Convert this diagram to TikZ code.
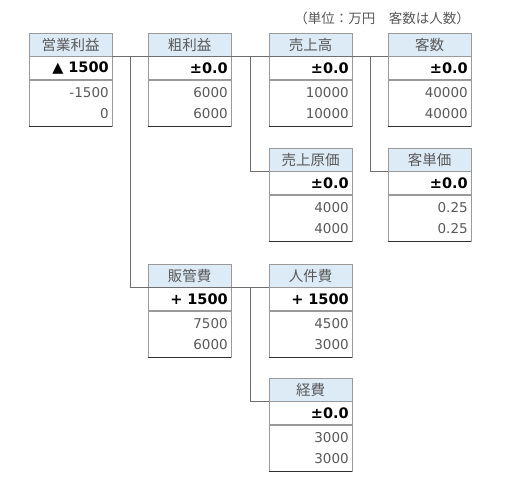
\documentclass[tikz,border=0pt]{standalone}
\usepackage{fontspec}
\setmainfont{Noto Sans CJK JP}
\newfontfamily\numfont{DejaVu Sans}
\definecolor{hdrblue}{HTML}{DDEBF7}
\definecolor{bgray}{HTML}{9A9A9A}
\definecolor{txtgray}{HTML}{595959}
\definecolor{conncol}{HTML}{6E6E6E}
\definecolor{botcol}{HTML}{303030}
\tikzset{
  hdr/.style={draw=bgray, fill=hdrblue, minimum width=83pt, minimum height=23pt,
    inner sep=0pt, text=txtgray, font=\fontsize{14.5}{16}\selectfont, anchor=north west},
  bld/.style={draw=bgray, fill=white, minimum width=83pt, minimum height=23pt, text width=76pt,
    align=right, inner xsep=3.5pt, inner ysep=0pt, text=black,
    font=\numfont\bfseries\fontsize{14.5}{16}\selectfont, anchor=north},
  vals/.style={draw=bgray, fill=white, minimum width=83pt, minimum height=46pt, text width=76pt,
    align=right, inner xsep=3.5pt, inner ysep=0pt, text=txtgray,
    font=\numfont\fontsize{13.5}{20.5}\selectfont, anchor=north},
  botline/.style={draw=botcol, line width=0.9pt},
  conn/.style={draw=conncol, line width=0.9pt},
  note/.style={text=txtgray, font=\fontsize{13.5}{15}\selectfont, inner sep=0pt}
}
\newcommand{\kpibox}[7]{%
  \node[hdr] (#1) at (#2,#3) {#4};
  \node[bld] (#1b) at (#1.south) {#5};
  \node[vals] (#1v) at (#1b.south) {#6\\#7};
  \draw[botline] (#1v.south west) -- (#1v.south east);
}
\begin{document}
\begin{tikzpicture}[x=1pt,y=-1pt]
\useasboundingbox[fill=white] (0,0) rectangle (512,485);

\node[note] (unit) at (382,18) {（単位：万円　客数は人数）};

\kpibox{eigyo}{29}{33}{営業利益}{{\mdseries ▲} 1500}{-1500}{0}
\kpibox{arari}{148}{33}{粗利益}{±0.0}{6000}{6000}
\kpibox{uriage}{269}{33}{売上高}{±0.0}{10000}{10000}
\kpibox{kyakusu}{388}{33}{客数}{±0.0}{40000}{40000}
\kpibox{genka}{269}{148}{売上原価}{±0.0}{4000}{4000}
\kpibox{tanka}{388}{148}{客単価}{±0.0}{0.25}{0.25}
\kpibox{hankan}{148}{264}{販管費}{+ 1500}{7500}{6000}
\kpibox{jinken}{269}{264}{人件費}{+ 1500}{4500}{3000}
\kpibox{keihi}{269}{378}{経費}{±0.0}{3000}{3000}

\coordinate (j1) at (130,56);
\coordinate (j2) at (250,56);
\coordinate (j3) at (370,56);
\coordinate (j4) at (250,287);

\draw[conn] (eigyo.south east) -- (kyakusu.south west);
\draw[conn] (j1) |- (jinken.south west);
\draw[conn] (j2) |- (genka.south west);
\draw[conn] (j3) |- (tanka.south west);
\draw[conn] (j4) |- (keihi.south west);
\end{tikzpicture}
\end{document}
